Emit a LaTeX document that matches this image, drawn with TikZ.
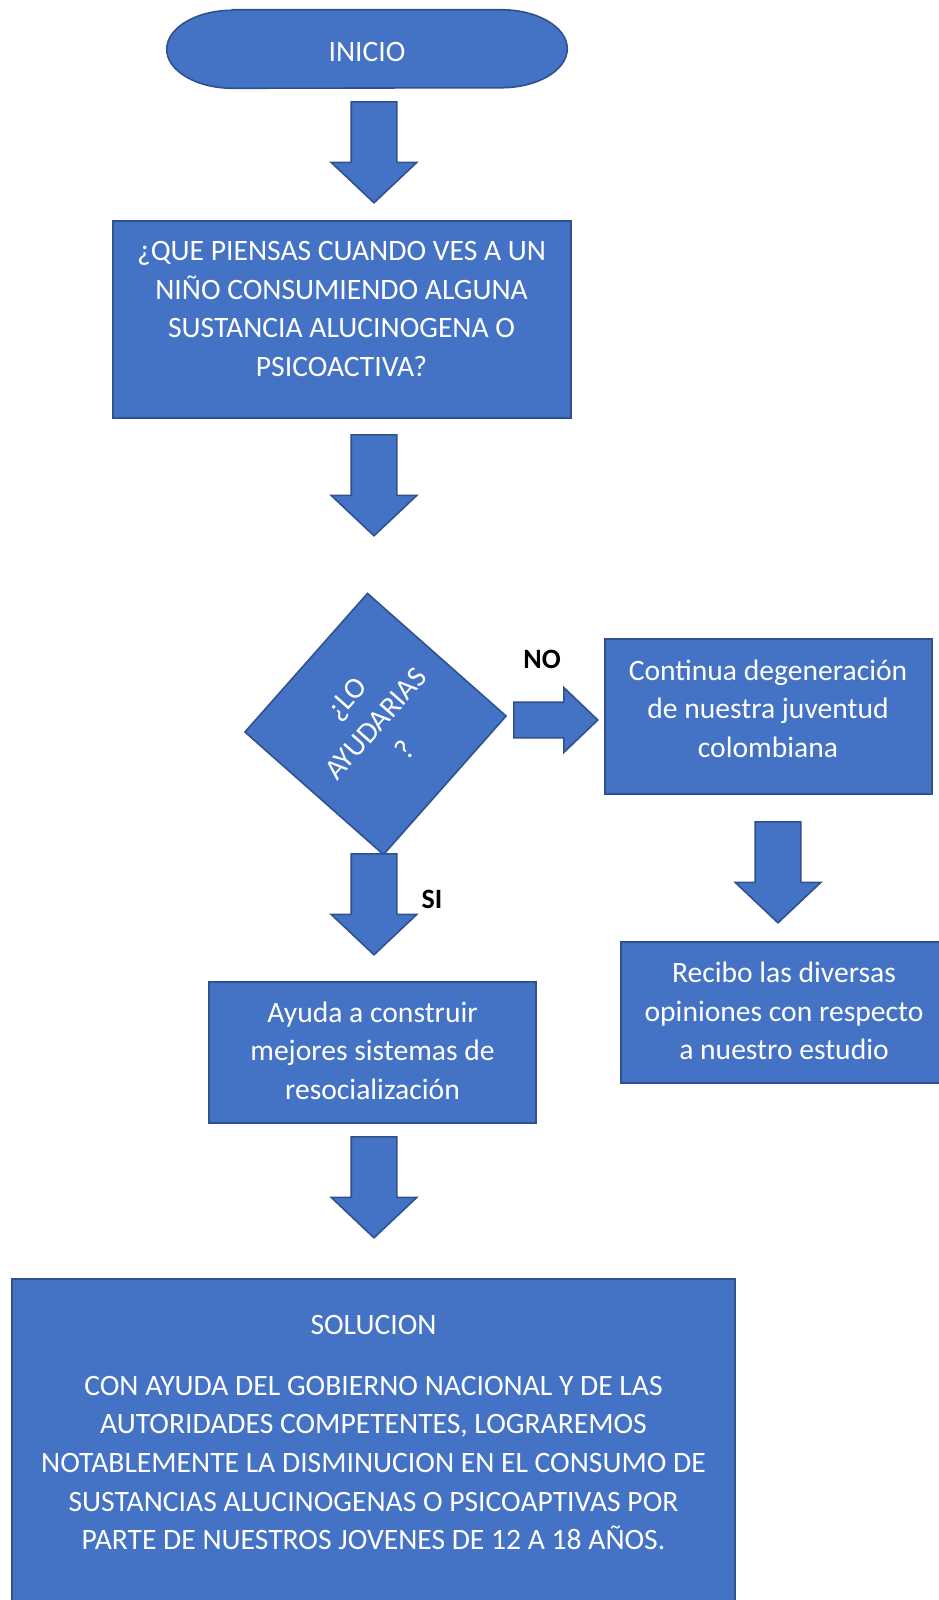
\documentclass[tikz,border=0pt]{standalone}
\usepackage{fontspec}
\setmainfont{Carlito}
\usetikzlibrary{shapes.arrows,backgrounds}
\definecolor{boxblue}{HTML}{4472C4}
\definecolor{edgeblue}{HTML}{2F528F}
\begin{document}
\begin{tikzpicture}[x=0.75pt,y=0.75pt,
  shapebox/.style={draw=edgeblue, fill=boxblue, line width=1.2pt, inner sep=0pt},
  boxtext/.style={text=white, align=center, font=\fontsize{22.2}{29}\selectfont, inner sep=0pt},
  labeltext/.style={text=black, font=\bfseries\fontsize{21}{29}\selectfont, inner sep=0pt},
  downarrow/.style={single arrow, draw=edgeblue, fill=boxblue, line width=1.2pt,
    inner xsep=0pt, inner ysep=16.5pt, single arrow head extend=15pt,
    minimum height=75.75pt, single arrow tip angle=93.3, rotate=-90, anchor=tail},
  rightarrow/.style={single arrow, draw=edgeblue, fill=boxblue, line width=1.2pt,
    inner xsep=0pt, inner ysep=12.75pt, single arrow head extend=11pt,
    minimum height=63pt, single arrow tip angle=87.4, anchor=tail},
]
\useasboundingbox (0,0) rectangle (939,-1600);

% start terminator
\node[boxtext, minimum width=300pt, minimum height=58.5pt, text height=18.7pt, text depth=0pt] (inicio) at (367,-49) {INICIO};
\begin{scope}[on background layer]
\draw[shapebox] ([xshift=49.5pt]inicio.north west) -- ([xshift=-49.5pt]inicio.north east)
  arc[start angle=90,end angle=-90,x radius=49.5pt,y radius=29.25pt]
  -- ([xshift=49.5pt]inicio.south west)
  arc[start angle=270,end angle=90,x radius=49.5pt,y radius=29.25pt] -- cycle;
\end{scope}

% boxes
\node[shapebox, minimum width=343.5pt, minimum height=147.75pt] (q1) at (342,-319.5) {};
\node[boxtext] (q1t) at (341.5,-309) {¿QUE PIENSAS CUANDO VES A UN\\NIÑO CONSUMIENDO ALGUNA\\SUSTANCIA ALUCINOGENA O\\PSICOACTIVA?};

\node[shapebox, boxtext, rectangle, minimum width=138.75pt, minimum height=138.75pt, rotate=48.5] (dec) at (375.5,-724) {¿LO\\AYUDARIAS\\?};

\node[shapebox, minimum width=245.25pt, minimum height=116.25pt] (cont) at (768.5,-716.5) {};
\node[boxtext] (contt) at (768,-708.5) {Continua degeneración\\de nuestra juventud\\colombiana};

\node[shapebox, minimum width=245pt, minimum height=105.75pt] (ayuda) at (372.5,-1052.3) {};
\node[boxtext] (ayudat) at (372.5,-1050.5) {Ayuda a construir\\mejores sistemas de\\resocialización};

\node[shapebox, minimum width=244.5pt, minimum height=105.75pt] (recibo) at (784,-1012.5) {};
\node[boxtext] (recibot) at (784,-1011) {Recibo las diversas\\opiniones con respecto\\a nuestro estudio};

\node[shapebox, minimum width=542.25pt, minimum height=248.25pt] (sol) at (373.5,-1444.5) {};
\node[boxtext] (solt) at (373.5,-1432.5) {SOLUCION\\[16.5pt]CON AYUDA DEL GOBIERNO NACIONAL Y DE LAS\\AUTORIDADES COMPETENTES, LOGRAREMOS\\NOTABLEMENTE LA DISMINUCION EN EL CONSUMO DE\\SUSTANCIAS ALUCINOGENAS O PSICOAPTIVAS POR\\PARTE DE NUESTROS JOVENES DE 12 A 18 AÑOS.};

% block arrows
\node[downarrow] (a1) at (374,-101) {};
\node[downarrow] (a2) at (374,-434) {};
\node[downarrow] (a3) at (374,-853) {};
\node[downarrow] (a4) at (374,-1136) {};
\node[downarrow] (a5) at (778,-821) {};
\node[rightarrow] (a6) at (513,-720) {};

% labels
\node[labeltext] (no) at (542,-659) {NO};
\node[labeltext] (si) at (432,-899) {SI};
\end{tikzpicture}
\end{document}
